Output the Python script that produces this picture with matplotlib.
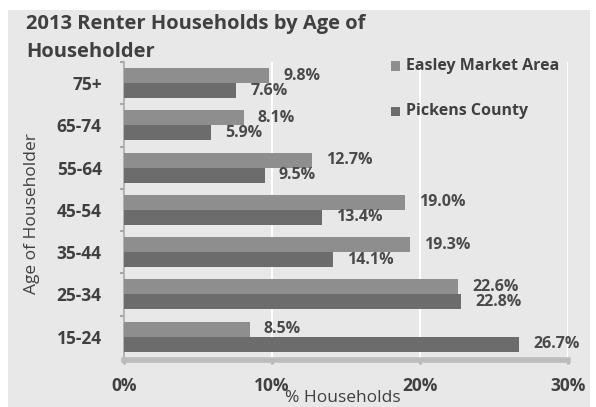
import matplotlib.pyplot as plt
from matplotlib.patches import Rectangle

ages = ['15-24', '25-34', '35-44', '45-54', '55-64', '65-74', '75+']
easley = [8.5, 22.6, 19.3, 19.0, 12.7, 8.1, 9.8]
pickens = [26.7, 22.8, 14.1, 13.4, 9.5, 5.9, 7.6]
xticks = [0, 10, 20, 30]

plt.rcParams['font.family'] = ['Open Sans', 'DejaVu Sans']
txt = '#404040'
c_easley = '#8e8e8e'
c_pickens = '#6c6c6c'

fig = plt.figure(figsize=(5.96, 4.07), dpi=100, facecolor='white')
fig.patches.append(Rectangle((0.013, 0.0), 0.977, 0.975, transform=fig.transFigure,
                             facecolor='#e8e8e8', edgecolor='none', zorder=-10))

ax = fig.add_axes([0.208, 0.1155, 0.745, 0.732])
ax.set_facecolor('#e8e8e8')

h = 0.355
y = list(range(len(ages)))
b1 = ax.barh([v + h / 2 for v in y], easley, height=h, color=c_easley, zorder=3)
b2 = ax.barh([v - h / 2 for v in y], pickens, height=h, color=c_pickens, zorder=3)

for i in y:
    ax.text(easley[i] + 0.95, i + h / 2, f'{easley[i]:.1f}%', va='center', ha='left',
            fontsize=11.5, fontweight='bold', color='#4a4a4a', zorder=4)
    ax.text(pickens[i] + 0.95, i - h / 2, f'{pickens[i]:.1f}%', va='center', ha='left',
            fontsize=11.5, fontweight='bold', color='#4a4a4a', zorder=4)

ax.set_xlim(0, 30)
ax.set_ylim(-0.55, 6.5)
ax.set_xticks(xticks)
ax.set_xticklabels([f'{t}%' for t in xticks], fontsize=12.5, fontweight='bold', color=txt)
ax.set_yticks(y)
ax.set_yticklabels(ages, fontsize=12.5, fontweight='bold', color=txt)
ax.set_yticks([v + 0.5 for v in y], minor=True)
ax.tick_params(axis='x', length=3, width=2, color='#b4b4b4', pad=9)
ax.tick_params(axis='y', which='major', length=0, pad=16)
ax.tick_params(axis='y', which='minor', length=3, width=1.5, color='#a8a8a8')
ax.grid(axis='x', color='white', linewidth=1.5, zorder=1)

for s in ['top', 'right']:
    ax.spines[s].set_visible(False)
ax.spines['left'].set_color('#a8a8a8')
ax.spines['left'].set_linewidth(1.2)
ax.spines['bottom'].set_color('#bcbcbc')
ax.spines['bottom'].set_linewidth(4)

ax.set_xlabel('% Households', fontsize=12.5, color=txt, va='center')
ax.xaxis.set_label_coords(0.493, -0.128)
ax.set_ylabel('Age of Householder', fontsize=12.5, color=txt, va='center')
ax.yaxis.set_label_coords(-0.208, 0.49)

fig.text(26 / 596, 1 - 29 / 407, '2013 Renter Households by Age of', fontsize=14.5,
         fontweight='bold', color=txt, va='baseline', ha='left')
fig.text(26 / 596, 1 - 57 / 407, 'Householder', fontsize=14.5,
         fontweight='bold', color=txt, va='baseline', ha='left')

# legend
for name, col, yc in [('Easley Market Area', c_easley, 66), ('Pickens County', c_pickens, 111)]:
    fig.patches.append(Rectangle((391 / 596, 1 - (yc + 4.5) / 407), 9 / 596, 9 / 407,
                                 transform=fig.transFigure, facecolor=col, edgecolor='none'))
    fig.text(406 / 596, 1 - yc / 407, name, fontsize=11.5, fontweight='bold', color=txt,
             va='center', ha='left')

fig.savefig('out.png', dpi=100, facecolor=fig.get_facecolor())
